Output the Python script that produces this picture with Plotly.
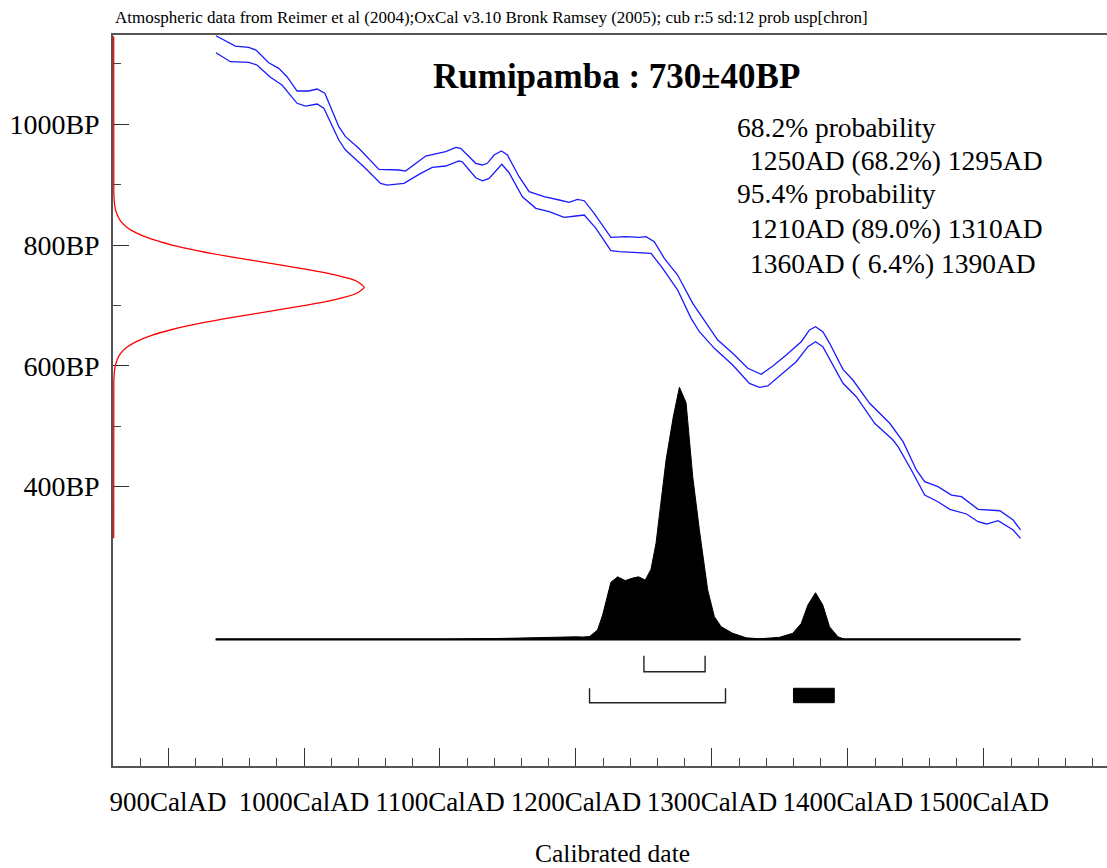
import plotly.graph_objects as go

# ---------------- data ----------------
# Calibration curve envelope (upper / lower 1-sigma), calendar year AD vs BP
cal_upper_year = [935.2, 949.5, 959.3, 964.7, 974.0, 981.4, 987.5, 994.9, 1003.5, 1009.6,
                  1015.3, 1025.6, 1030.5, 1040.3, 1055.1, 1069.8, 1074.7, 1089.5, 1104.2, 1111.6,
                  1115.2, 1126.3, 1131.2, 1134.8, 1139.8, 1145.2, 1149.6, 1158.2, 1165.6, 1176.6,
                  1187.7, 1195.0, 1201.1, 1206.1, 1213.4, 1225.7, 1236.8, 1246.6, 1251.5, 1257.6,
                  1265.0, 1274.8, 1285.9, 1293.2, 1304.3, 1315.3, 1326.4, 1336.3, 1344.8, 1354.7,
                  1365.7, 1371.8, 1376.2, 1381.6, 1386.6, 1396.4, 1403.7, 1416.0, 1430.8, 1440.6,
                  1450.4, 1456.5, 1466.3, 1476.2, 1483.6, 1495.8, 1511.8, 1521.6, 1527.0]
cal_upper_bp = [1146.8, 1129.7, 1127.6, 1123.1, 1102.1, 1092.8, 1078.9, 1055.2, 1055.2, 1058.5,
                1051.4, 996.0, 979.5, 960.2, 925.4, 924.3, 922.6, 947.5, 954.6, 961.9,
                960.2, 935.4, 932.6, 935.4, 949.1, 955.8, 949.1, 913.2, 888.3, 880.0,
                874.6, 870.8, 875.7, 873.4, 852.5, 812.8, 813.8, 812.8, 813.8, 805.5,
                778.0, 750.3, 703.4, 678.5, 642.6, 620.5, 595.7, 585.7, 599.5, 617.7,
                639.8, 659.2, 664.6, 656.3, 637.1, 594.0, 576.3, 537.7, 504.6, 474.1,
                427.2, 407.8, 399.5, 385.7, 382.9, 362.1, 359.7, 344.3, 327.8]
cal_lower_year = [935.2, 945.8, 959.3, 965.4, 975.3, 983.8, 994.9, 1001.1, 1009.6, 1014.6,
                  1025.6, 1030.5, 1044.0, 1056.3, 1061.2, 1073.5, 1085.8, 1094.3, 1104.2, 1114.0,
                  1116.4, 1126.3, 1131.2, 1136.1, 1145.5, 1150.8, 1160.6, 1170.5, 1180.3, 1191.3,
                  1200.0, 1206.1, 1214.7, 1225.7, 1231.9, 1244.2, 1255.2, 1263.8, 1274.8, 1284.7,
                  1290.8, 1301.8, 1315.3, 1327.6, 1335.0, 1341.1, 1349.7, 1362.0, 1370.6, 1376.2,
                  1381.6, 1387.8, 1396.4, 1406.2, 1419.7, 1433.2, 1436.9, 1446.7, 1456.5, 1466.3,
                  1475.0, 1487.3, 1495.8, 1502.0, 1510.5, 1521.6, 1527.0]
cal_lower_bp = [1118.6, 1103.7, 1102.7, 1098.3, 1077.9, 1065.1, 1034.8, 1030.3, 1033.6, 1026.5,
                974.0, 957.4, 929.7, 902.2, 899.4, 902.2, 918.8, 928.7, 930.9, 939.2,
                938.0, 911.5, 906.5, 910.5, 933.7, 919.8, 880.0, 860.8, 855.2, 845.9,
                848.1, 849.7, 827.7, 790.6, 788.9, 787.9, 786.2, 761.4, 725.4, 678.5,
                656.3, 628.8, 601.2, 570.8, 564.2, 566.4, 582.9, 606.6, 631.5, 639.8,
                631.5, 606.6, 570.8, 548.6, 504.6, 476.9, 465.8, 427.2, 385.7, 374.6,
                362.1, 354.3, 341.5, 337.7, 343.2, 327.8, 314.0]

# Radiocarbon measurement 730±40 BP: relative probability at BP values
c14_bp = [314, 570, 580, 590, 600, 610, 620, 630, 640, 650, 660, 670, 680, 690, 700, 710, 720,
          730, 740, 750, 760, 770, 780, 790, 800, 810, 820, 830, 840, 850, 860, 870, 880, 890, 1146]
c14_prob = [0.0, 0.0005, 0.0012, 0.0029, 0.0066, 0.014, 0.027, 0.051, 0.090, 0.149, 0.233,
            0.343, 0.475, 0.621, 0.765, 0.888, 0.971, 1.0, 0.971, 0.888, 0.765, 0.621, 0.475,
            0.343, 0.233, 0.149, 0.090, 0.051, 0.027, 0.014, 0.0066, 0.0029, 0.0012, 0.0005, 0.0]

# Calibrated date distribution (relative probability)
dist_year = [935, 1100, 1150, 1175, 1190, 1200, 1205, 1210, 1215.9, 1219.6, 1225.7, 1230.6,
             1236.3, 1241.7, 1246.1, 1251.0, 1255.2, 1258.9, 1266.3, 1271.6, 1276.1, 1281.0,
             1285.9, 1290.8, 1296.9, 1301.8, 1306.8, 1315.3, 1325.2, 1335.0, 1349.7, 1359.5,
             1365.7, 1370.6, 1376.2, 1381.6, 1386.5, 1392.7, 1397.6, 1527]
dist_prob = [0.0, 0.0, 0.004, 0.008, 0.011, 0.010, 0.009, 0.011, 0.037, 0.096, 0.226, 0.248,
             0.233, 0.243, 0.248, 0.235, 0.278, 0.381, 0.712, 0.883, 1.0, 0.939,
             0.645, 0.434, 0.196, 0.090, 0.050, 0.024, 0.006, 0.002, 0.008, 0.024,
             0.063, 0.136, 0.185, 0.136, 0.050, 0.010, 0.0, 0.0]

# Ranges
range68 = [(1250, 1295)]
range95 = [(1210, 1310), (1360, 1390)]

title_text = "Rumipamba : 730±40BP"
header_text = ("Atmospheric data from Reimer et al (2004);OxCal v3.10 Bronk Ramsey (2005); "
               "cub r:5 sd:12 prob usp[chron]")
stats_lines = ["68.2% probability", "1250AD (68.2%) 1295AD", "95.4% probability",
               "1210AD (89.0%) 1310AD", "1360AD ( 6.4%) 1390AD"]
stats_indent = [False, True, False, True, True]

x_tick_vals = [900, 1000, 1100, 1200, 1300, 1400, 1500]
x_tick_text = [f"{v}CalAD" for v in x_tick_vals]
y_tick_vals = [400, 600, 800, 1000]
y_tick_text = [f"{v}BP" for v in y_tick_vals]

# ---------------- layout constants ----------------
W, H = 1107, 868
ML, MT, MB, MR = 113, 35, 102, 0
X_RANGE = [859.5, 1590.6]
Y_RANGE = [-63.3, 1148.0]
RED_PEAK = 184.2          # calendar-year width of the measurement curve peak
RED_X0 = X_RANGE[0] + 0.5
DIST_BASE = 146.6         # BP level of the distribution baseline
DIST_SCALE = 417.6        # BP height of the distribution peak
SERIF = "Liberation Serif, Times New Roman, serif"

fig = go.Figure()

# measurement curve (red) along the y axis
fig.add_trace(go.Scatter(
    x=[RED_X0 + p * RED_PEAK for p in c14_prob], y=c14_bp,
    mode="lines", line=dict(color="#ff0000", width=1.3, shape="spline", smoothing=0.6),
    hoverinfo="skip"))

# calibration curve envelope
for xs, ys in [(cal_upper_year, cal_upper_bp), (cal_lower_year, cal_lower_bp)]:
    fig.add_trace(go.Scatter(x=xs, y=ys, mode="lines",
                             line=dict(color="#1a1aff", width=1.3), hoverinfo="skip"))

# calibrated distribution
fig.add_trace(go.Scatter(
    x=dist_year, y=[DIST_BASE + p * DIST_SCALE for p in dist_prob],
    mode="lines", fill="toself", fillcolor="black",
    line=dict(color="black", width=1), hoverinfo="skip"))
fig.add_trace(go.Scatter(
    x=[dist_year[0], dist_year[-1]], y=[DIST_BASE, DIST_BASE],
    mode="lines", line=dict(color="black", width=2.2), hoverinfo="skip"))

# range brackets
def bracket(a, b, top, bot):
    fig.add_trace(go.Scatter(x=[a, a, b, b], y=[top, bot, bot, top], mode="lines",
                             line=dict(color="#222", width=1.4), hoverinfo="skip"))

def box(a, b, top, bot):
    fig.add_trace(go.Scatter(x=[a, b, b, a, a], y=[top, top, bot, bot, top], mode="lines",
                             fill="toself", fillcolor="black",
                             line=dict(color="black", width=1), hoverinfo="skip"))

for a, b in range68:
    bracket(a, b, 119.5, 93.0)
for i, (a, b) in enumerate(range95):
    if i == 0:
        bracket(a, b, 65.5, 41.6)
    else:
        box(a, b, 65.5, 41.6)

# ---------------- annotations ----------------
plot_h = H - MT - MB
plot_w = W - ML - MR

def px_to_paper(xp, yp):
    return (xp - ML) / plot_w, (H - MB - yp) / plot_h

ann = []
hx, hy = px_to_paper(113, 18)
ann.append(dict(text=header_text, x=hx, y=hy, xref="paper", yref="paper",
                xanchor="left", yanchor="middle", showarrow=False,
                font=dict(family=SERIF, size=17, color="black")))
tx, ty = px_to_paper(616, 76)
ann.append(dict(text=f"<b>{title_text}</b>", x=tx, y=ty, xref="paper", yref="paper",
                xanchor="center", yanchor="middle", showarrow=False,
                font=dict(family=SERIF, size=35, color="black")))
line_y = [127, 160, 193, 229, 263]
for txt, ind, ly in zip(stats_lines, stats_indent, line_y):
    sx, sy = px_to_paper(748 if ind else 735, ly)
    ann.append(dict(text=txt, x=sx, y=sy, xref="paper", yref="paper",
                    xanchor="left", yanchor="middle", showarrow=False,
                    font=dict(family=SERIF, size=27.5, color="black")))
cx, cy = px_to_paper(612, 853)
ann.append(dict(text="Calibrated date", x=cx, y=cy, xref="paper", yref="paper",
                xanchor="center", yanchor="middle", showarrow=False,
                font=dict(family=SERIF, size=25.5, color="black")))

fig.update_layout(
    width=W, height=H, autosize=False,
    margin=dict(l=ML, r=MR, t=MT, b=MB, pad=0, autoexpand=False),
    paper_bgcolor="white", plot_bgcolor="white",
    showlegend=False, annotations=ann,
    xaxis=dict(range=X_RANGE, showgrid=False, zeroline=False, automargin=False,
               showline=True, linecolor="#555", linewidth=1.5, mirror=True,
               ticks="inside", ticklen=18, tickwidth=1.3, tickcolor="#333",
               tickmode="array", tickvals=x_tick_vals, ticktext=x_tick_text,
               tickangle=0,
               tickfont=dict(family=SERIF, size=27, color="black"),
               ticklabelstandoff=11,
               minor=dict(ticks="inside", ticklen=8, tickwidth=1.2, tickcolor="#444",
                          tickmode="linear", tick0=860, dtick=20, showgrid=False),
               layer="below traces", fixedrange=True),
    yaxis=dict(range=Y_RANGE, showgrid=False, zeroline=False, automargin=False,
               showline=True, linecolor="#555", linewidth=1.5, mirror=False,
               ticks="inside", ticklen=16, tickwidth=1.3, tickcolor="#333",
               tickmode="array", tickvals=y_tick_vals, ticktext=y_tick_text,
               tickfont=dict(family=SERIF, size=28, color="black"),
               ticklabelstandoff=6,
               minor=dict(ticks="inside", ticklen=8, tickwidth=1.2, tickcolor="#444",
                          tickmode="array", tickvals=[500, 700, 900, 1100], showgrid=False),
               layer="below traces", fixedrange=True),
)

fig.write_html("out.html", config={"displayModeBar": False},
               post_script="document.body.style.margin='0px';document.body.style.overflow='hidden';")
